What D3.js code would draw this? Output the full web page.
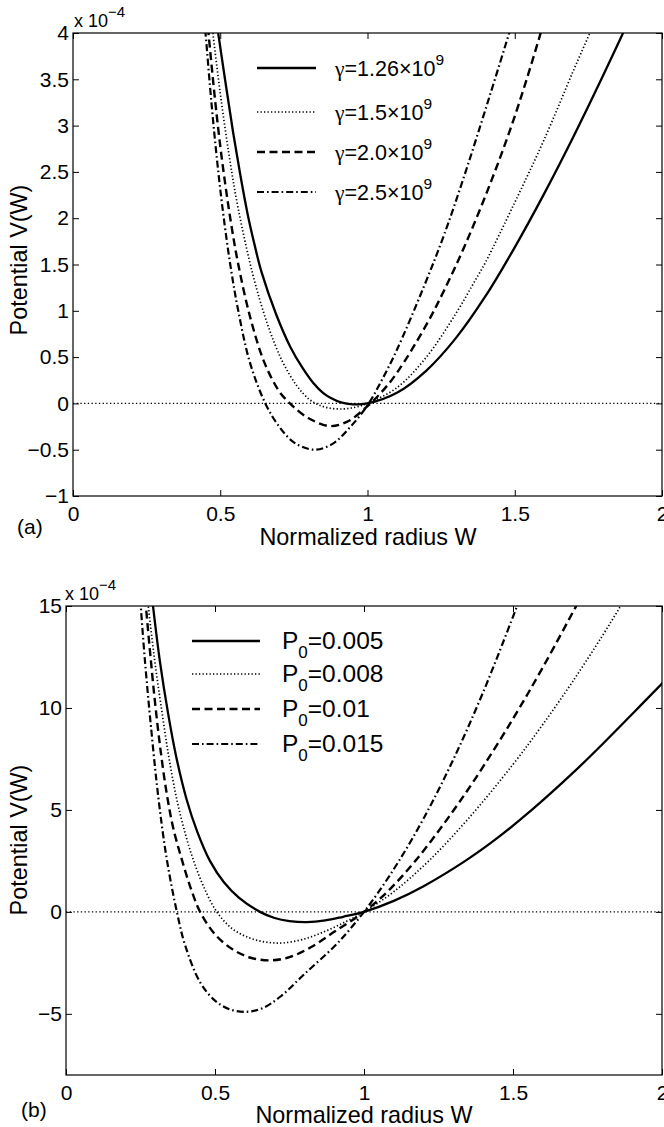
<!DOCTYPE html>
<html><head><meta charset="utf-8">
<script src="https://cdn.jsdelivr.net/npm/d3@7"></script>
<style>
body{margin:0;background:#fff}
svg{display:block}
text{font-family:"Liberation Sans",Arial,Helvetica,sans-serif;fill:#000}
</style>
</head><body><svg id="c" width="664" height="1127"></svg>
<script>
// ---------- DATA ----------
const xTicks = [0, 0.5, 1, 1.5, 2];
const yTicksA = [-1, -0.5, 0, 0.5, 1, 1.5, 2, 2.5, 3, 3.5, 4];
const yTicksB = [-5, 0, 5, 10, 15];
const legendA = ["1.26", "1.5", "2.0", "2.5"];      // gamma = value x 10^9
const legendB = ["0.005", "0.008", "0.01", "0.015"]; // P0 values

// Panel (a): V(W) in units of 1e-4, one series per gamma
const a1 = [[0.478,4.35],[0.493,4.0],[0.52,3.42],[0.544,2.92],[0.568,2.47],[0.592,2.06],[0.616,1.72],[0.64,1.42],[0.69,0.96],[0.738,0.61],[0.78,0.38],[0.816,0.22],[0.85,0.11],[0.874,0.06],[0.91,0.01],[0.95,-0.01],[1.0,0.0],[1.1,0.115],[1.2,0.355],[1.3,0.705],[1.4,1.155],[1.5,1.685],[1.6,2.265],[1.7,2.885],[1.8,3.54],[1.9,4.22]];
const a2 = [[0.465,4.3],[0.475,4.0],[0.50,3.35],[0.53,2.68],[0.56,2.12],[0.61,1.4],[0.66,0.86],[0.71,0.46],[0.76,0.19],[0.80,0.05],[0.83,-0.01],[0.87,-0.05],[0.92,-0.06],[0.96,-0.04],[1.0,0.0],[1.1,0.17],[1.2,0.5],[1.3,0.97],[1.366,1.33],[1.4,1.52],[1.5,2.17],[1.6,2.85],[1.7,3.6],[1.755,4.0],[1.8,4.33]];
const a3 = [[0.45,4.33],[0.46,4.0],[0.48,3.35],[0.50,2.78],[0.52,2.3],[0.54,1.88],[0.56,1.52],[0.60,0.95],[0.65,0.44],[0.70,0.13],[0.727,0.03],[0.75,-0.04],[0.80,-0.16],[0.87,-0.245],[0.93,-0.2],[1.0,-0.03],[1.05,0.13],[1.1,0.33],[1.2,0.85],[1.26,1.22],[1.33,1.7],[1.42,2.4],[1.5,3.1],[1.588,4.0],[1.61,4.25]];
const a4 = [[0.44,4.35],[0.45,4.0],[0.47,3.25],[0.49,2.6],[0.51,2.05],[0.534,1.5],[0.56,1.02],[0.60,0.45],[0.653,0.0],[0.70,-0.25],[0.75,-0.42],[0.817,-0.5],[0.88,-0.44],[0.94,-0.26],[1.0,-0.02],[1.05,0.26],[1.1,0.58],[1.19,1.25],[1.26,1.82],[1.333,2.5],[1.41,3.27],[1.486,4.05],[1.51,4.3]];

// Panel (b): V(W) in units of 1e-4, one series per P0
const b1 = [[0.28,16.6],[0.292,15.0],[0.315,12.3],[0.343,9.7],[0.37,7.6],[0.405,5.5],[0.44,3.95],[0.483,2.5],[0.53,1.45],[0.58,0.7],[0.651,0.0],[0.70,-0.3],[0.75,-0.45],[0.808,-0.5],[0.87,-0.42],[0.93,-0.24],[1.0,0.0],[1.1,0.54],[1.2,1.26],[1.34,2.5],[1.45,3.65],[1.564,5.01],[1.7,6.8],[1.8,8.22],[1.906,9.79],[2.0,11.2],[2.02,11.5]];
const b2 = [[0.265,16.5],[0.276,15.0],[0.297,12.4],[0.321,9.9],[0.345,7.6],[0.372,5.5],[0.40,3.85],[0.425,2.65],[0.46,1.3],[0.506,0.0],[0.56,-0.85],[0.62,-1.3],[0.68,-1.5],[0.73,-1.52],[0.80,-1.33],[0.87,-0.95],[0.94,-0.47],[1.0,0.0],[1.1,0.99],[1.218,2.51],[1.35,4.57],[1.5,7.23],[1.6,9.19],[1.7,11.29],[1.8,13.54],[1.856,14.87],[1.9,15.93]];
const b3 = [[0.258,16.6],[0.268,15.0],[0.283,12.6],[0.30,10.1],[0.318,7.85],[0.338,5.8],[0.36,4.1],[0.39,2.5],[0.42,1.1],[0.45,0.0],[0.50,-1.1],[0.56,-1.85],[0.62,-2.25],[0.685,-2.38],[0.75,-2.22],[0.82,-1.75],[0.9,-0.98],[1.0,0.0],[1.08,1.01],[1.171,2.48],[1.27,4.36],[1.372,6.5],[1.5,9.47],[1.6,11.99],[1.715,15.08],[1.75,16.05]];
const b4 = [[0.24,17.5],[0.248,15.6],[0.265,12.3],[0.287,8.8],[0.31,5.6],[0.338,2.6],[0.372,0.0],[0.40,-1.65],[0.45,-3.45],[0.50,-4.35],[0.55,-4.78],[0.607,-4.9],[0.66,-4.72],[0.72,-4.15],[0.80,-3.05],[0.90,-1.7],[0.95,-0.9],[1.0,0.0],[1.05,1.0],[1.117,2.49],[1.2,4.58],[1.3,7.48],[1.4,10.78],[1.503,14.59],[1.52,15.25],[1.54,16.0]];

// ---------- DRAWING ----------
const svg = d3.select("#c");
const styles = [
  {dash:null, w:2.3},
  {dash:"1.3,2.2", w:1.7},
  {dash:"8,4.5", w:2.4},
  {dash:"7,3,1.6,3", w:2.2}
];
const fontTick = 21, fontLabel = 23.4;

function panel(id, box, yDomain, yTicks, series, tickFmt) {
  const x = d3.scaleLinear().domain([0,2]).range([box.l, box.r]);
  const y = d3.scaleLinear().domain(yDomain).range([box.b, box.t]);
  const g = svg.append("g");
  g.append("clipPath").attr("id", id).append("rect")
    .attr("x", box.l).attr("y", box.t).attr("width", box.r-box.l).attr("height", box.b-box.t);

  // zero reference line
  g.append("line").attr("x1", x(0)).attr("x2", x(2)).attr("y1", y(0)).attr("y2", y(0))
    .attr("stroke","#000").attr("stroke-width",1.4).attr("stroke-dasharray","1.3,2.4");

  // curves
  const line = d3.line().x(d=>x(d[0])).y(d=>y(d[1])).curve(d3.curveCatmullRom.alpha(0.5));
  series.forEach((s,i)=>{
    g.append("path").datum(s).attr("d", line).attr("fill","none")
      .attr("stroke","#000").attr("stroke-width", styles[i].w)
      .attr("stroke-dasharray", styles[i].dash)
      .attr("stroke-linejoin","round")
      .attr("clip-path", `url(#${id})`);
  });

  // axes (ticks pointing inward, MATLAB style box)
  const tl = 6;
  const ax = g.append("g");
  const xb = d3.axisBottom(x).tickValues(xTicks).tickSize(-tl).tickPadding(10).tickFormat(d3.format("~g"));
  const xt = d3.axisTop(x).tickValues(xTicks).tickSize(-tl).tickFormat("");
  const yl = d3.axisLeft(y).tickValues(yTicks).tickSize(-tl).tickPadding(4).tickFormat(tickFmt);
  const yr = d3.axisRight(y).tickValues(yTicks).tickSize(-tl).tickFormat("");
  ax.append("g").attr("transform",`translate(0,${box.b})`).call(xb);
  ax.append("g").attr("transform",`translate(0,${box.t})`).call(xt);
  ax.append("g").attr("transform",`translate(${box.l},0)`).call(yl);
  ax.append("g").attr("transform",`translate(${box.r},0)`).call(yr);
  ax.selectAll(".domain").remove();
  ax.selectAll(".tick line").attr("stroke","#000").attr("stroke-width",1);
  ax.selectAll(".tick text").attr("font-size", fontTick).attr("fill","#000")
    .style("font-family", '"Liberation Sans",Arial,sans-serif');
  // box
  g.append("rect").attr("x",box.l).attr("y",box.t).attr("width",box.r-box.l).attr("height",box.b-box.t)
    .attr("fill","none").attr("stroke","#000").attr("stroke-width",1.2);
  return {x,y,g};
}

const minusFmt = d => (d<0 ? "\u2212" : "") + d3.format("~g")(Math.abs(d));

function exponent(xp, yp) {
  const t = svg.append("text").attr("x",xp).attr("y",yp).attr("font-size",18);
  t.append("tspan").text("x 10");
  t.append("tspan").attr("dy",-10).attr("font-size",15).text("\u22124");
}

// ----- Panel (a)
panel("clipA", {l:73, r:662, t:33, b:496}, [-1,4], yTicksA, [a1,a2,a3,a4], minusFmt);
exponent(74, 27);
svg.append("text").attr("x",368).attr("y",545).attr("text-anchor","middle").attr("font-size",fontLabel).text("Normalized radius W");
svg.append("text").attr("transform","translate(27,260) rotate(-90)").attr("text-anchor","middle").attr("font-size",fontLabel).text("Potential V(W)");
svg.append("text").attr("x",17).attr("y",534).attr("font-size",21).text("(a)");
const legAy = [68,112,152,192];
legendA.forEach((v,i)=>{
  svg.append("line").attr("x1",257).attr("x2",316).attr("y1",legAy[i]).attr("y2",legAy[i])
    .attr("stroke","#000").attr("stroke-width",styles[i].w).attr("stroke-dasharray",styles[i].dash);
  const t = svg.append("text").attr("x",335).attr("y",legAy[i]+7.5).attr("font-size",21.5);
  t.append("tspan").style("font-family",'"Liberation Serif","DejaVu Serif",serif').text("\u03b3");
  t.append("tspan").text("=" + v + "\u00d710");
  t.append("tspan").attr("dy",-11).attr("font-size",15.5).text("9");
});

// ----- Panel (b)
panel("clipB", {l:66, r:662, t:606, b:1075}, [-8,15], yTicksB, [b1,b2,b3,b4], minusFmt);
exponent(65, 600);
svg.append("text").attr("x",364).attr("y",1123).attr("text-anchor","middle").attr("font-size",fontLabel).text("Normalized radius W");
svg.append("text").attr("transform","translate(27,840) rotate(-90)").attr("text-anchor","middle").attr("font-size",fontLabel).text("Potential V(W)");
svg.append("text").attr("x",21).attr("y",1117).attr("font-size",21).text("(b)");
const legBy = [641,674,709,744];
legendB.forEach((v,i)=>{
  svg.append("line").attr("x1",192).attr("x2",260).attr("y1",legBy[i]).attr("y2",legBy[i])
    .attr("stroke","#000").attr("stroke-width",styles[i].w).attr("stroke-dasharray",styles[i].dash);
  const t = svg.append("text").attr("x",282).attr("y",legBy[i]+8).attr("font-size",24.5);
  t.append("tspan").text("P");
  t.append("tspan").attr("dy",9).attr("font-size",17).text("0");
  t.append("tspan").attr("dy",-9).text("=" + v);
});
</script></body></html>
